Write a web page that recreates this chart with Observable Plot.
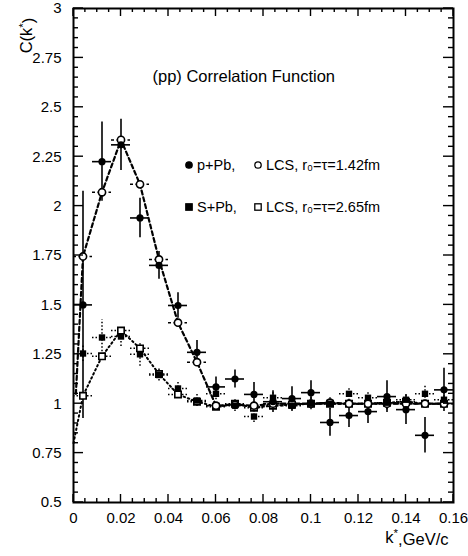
<!DOCTYPE html>
<html><head><meta charset="utf-8">
<script src="https://cdn.jsdelivr.net/npm/d3@7"></script>
<script src="https://cdn.jsdelivr.net/npm/@observablehq/plot@0.6"></script>
<style>body{margin:0;background:#fff} svg{display:block;background:#fff}</style>
</head><body><div id="chart"></div>
<script>
// bin centres (GeV/c)
const k = [0.004,0.012,0.020,0.028,0.036,0.044,0.052,0.060,0.068,0.076,0.084,0.092,0.100,0.108,0.116,0.124,0.132,0.140,0.148,0.156];
// p+Pb data
const pPb    = [1.50,2.225,2.31,1.94,1.70,1.497,1.26,1.085,1.125,1.047,1.01,1.026,1.056,0.905,0.94,0.96,1.036,0.97,0.84,1.07];
const pPbErr = [0.575,0.20,0.13,0.10,0.07,0.065,0.06,0.05,0.046,0.06,0.055,0.06,0.06,0.07,0.06,0.06,0.08,0.075,0.09,0.11];
// S+Pb data
const sPb    = [1.254,1.335,1.34,1.25,1.145,1.077,1.016,1.05,0.99,0.935,1.03,0.99,1.0,1.0,1.05,1.03,1.005,1.02,1.05,1.02];
const sPbErr = [0.04,0.09,0.05,0.06,0.03,0.03,0.03,0.03,0.03,0.03,0.035,0.03,0.03,0.03,0.035,0.035,0.035,0.035,0.04,0.04];
// LCS model values
const lcsPP  = [1.745,2.07,2.335,2.11,1.73,1.41,1.21,0.99,0.995,0.99,1.0,1.0,1.0,1.005,1.0,1.0,1.0,1.0,1.0,1.0];
const lcsSPb = [1.04,1.24,1.37,1.28,1.15,1.047,1.01,0.985,1.0,0.98,0.99,0.995,1.0,1.0,1.0,1.0,1.005,1.01,1.0,1.0];
// LCS curves near k*=0
const lcsPPStart  = {k: 0.001, c: 1.05};
const lcsSPbStart = {k: 0.0, c: 0.80};
const halfBin = 0.004;
// axes
const xDomain = [0, 0.16];
const yDomain = [0.5, 3];
const xTicks = [0,0.02,0.04,0.06,0.08,0.1,0.12,0.14,0.16];
const xTickLabels = ["0","0.02","0.04","0.06","0.08","0.1","0.12","0.14","0.16"];
const yTicks = [0.5,0.75,1,1.25,1.5,1.75,2,2.25,2.5,2.75,3];
const yTickLabels = ["0.5","0.75","1","1.25","1.5","1.75","2","2.25","2.5","2.75","3"];
const title = "(pp) Correlation Function";
const xLabel = "k*,GeV/c";
const yLabel = "C(k*)";
const legend = [
  {filled: "circle", fLabel: "p+Pb,", open: "circle", oLabel: "LCS, r₀=τ=1.42fm"},
  {filled: "square", fLabel: "S+Pb,", open: "square", oLabel: "LCS, r₀=τ=2.65fm"}
];

const xMinor = d3.range(0, 33).map(i => +(i*0.005).toFixed(3)).filter(v => !xTicks.includes(v));
const yMinor = d3.range(0, 51).map(i => +(0.5 + i*0.05).toFixed(2)).filter(v => !yTicks.includes(v));

const ppRows  = k.map((x,i) => ({k:x, c:pPb[i], e:pPbErr[i]}));
const spRows  = k.map((x,i) => ({k:x, c:sPb[i], e:sPbErr[i]}));
const lppRows = k.map((x,i) => ({k:x, c:lcsPP[i]}));
const lspRows = k.map((x,i) => ({k:x, c:lcsSPb[i]}));

const W = 468, H = 556, mL = 73, mR = 15, mT = 8, mB = 54;
const FW = W - mL - mR, FH = H - mT - mB;
// pixel length -> data length (for inward tick marks)
const pxX = L => L * (xDomain[1] - xDomain[0]) / FW;
const pxY = L => L * (yDomain[1] - yDomain[0]) / FH;
const font = "'Liberation Sans', Arial, Helvetica, sans-serif";
const fmtX = d => xTickLabels[xTicks.indexOf(d)];
const fmtY = d => yTickLabels[yTicks.indexOf(d)];
const tw = 0.7; // half tick thickness, px
// inward tick marks drawn as thin filled rects (all four sides)
const xTickRects = (vals, L) => [
  Plot.rect(vals, {x1: d => d - pxX(tw), x2: d => d + pxX(tw), y1: () => yDomain[0], y2: () => yDomain[0] + pxY(L), fill: "#000"}),
  Plot.rect(vals, {x1: d => d - pxX(tw), x2: d => d + pxX(tw), y1: () => yDomain[1] - pxY(L), y2: () => yDomain[1], fill: "#000"})
];
const yTickRects = (vals, L) => [
  Plot.rect(vals, {y1: d => d - pxY(tw), y2: d => d + pxY(tw), x1: () => xDomain[0], x2: () => xDomain[0] + pxX(L), fill: "#000"}),
  Plot.rect(vals, {y1: d => d - pxY(tw), y2: d => d + pxY(tw), x1: () => xDomain[1] - pxX(L), x2: () => xDomain[1], fill: "#000"})
];

const plot = Plot.plot({
  width: W, height: H,
  marginLeft: mL, marginRight: mR, marginTop: mT, marginBottom: mB,
  x: {domain: xDomain},
  y: {domain: yDomain},
  style: {fontFamily: font},
  marks: [
    Plot.frame({fill: "none", stroke: "#000", strokeWidth: 2}),
    Plot.axisX({anchor: "bottom", ticks: xTicks, tickSize: 0, tickPadding: 10, tickFormat: fmtX, fontSize: 15, label: null, fill: "#000"}),
    Plot.axisY({anchor: "left", ticks: yTicks, tickSize: 0, tickPadding: 12, tickFormat: fmtY, fontSize: 15, label: null, fill: "#000"}),
    // LCS curves
    Plot.line([lcsPPStart, ...lppRows], {x: "k", y: "c", stroke: "#000", strokeWidth: 2.2, strokeDasharray: "4,3"}),
    Plot.line([lcsSPbStart, ...lspRows], {x: "k", y: "c", stroke: "#000", strokeWidth: 2, strokeDasharray: "1.5,3"}),
    // LCS horizontal bin bars
    Plot.ruleY(lppRows, {y: "c", x1: d => d.k - halfBin, x2: d => d.k + halfBin, stroke: "#000", strokeWidth: 1.5, strokeDasharray: "3,2.5"}),
    Plot.ruleY(lspRows, {y: "c", x1: d => d.k - halfBin, x2: d => d.k + halfBin, stroke: "#000", strokeWidth: 1.5, strokeDasharray: "1.5,2"}),
    // S+Pb error bars (dotted)
    Plot.ruleX(spRows, {x: "k", y1: d => d.c - d.e, y2: d => d.c + d.e, stroke: "#000", strokeWidth: 1.5, strokeDasharray: "1.5,2"}),
    Plot.ruleY(spRows, {y: "c", x1: d => d.k - halfBin, x2: d => d.k + halfBin, stroke: "#000", strokeWidth: 1.5, strokeDasharray: "1.5,2"}),
    // p+Pb error bars (solid)
    Plot.ruleX(ppRows, {x: "k", y1: d => d.c - d.e, y2: d => d.c + d.e, stroke: "#000", strokeWidth: 1.6}),
    Plot.ruleY(ppRows, {y: "c", x1: d => d.k - halfBin, x2: d => d.k + halfBin, stroke: "#000", strokeWidth: 1.6}),
    // LCS markers (open)
    Plot.dot(lspRows, {x: "k", y: "c", symbol: "square", r: 3.6, fill: "#fff", stroke: "#000", strokeWidth: 1.6}),
    Plot.dot(lppRows, {x: "k", y: "c", symbol: "circle", r: 3.6, fill: "#fff", stroke: "#000", strokeWidth: 1.6}),
    // data markers (filled)
    Plot.dot(spRows, {x: "k", y: "c", symbol: "square", r: 3.6, fill: "#000"}),
    Plot.dot(ppRows, {x: "k", y: "c", symbol: "circle", r: 3.6, fill: "#000"}),
    // inward tick marks (drawn last)
    ...xTickRects(xMinor, 4), ...xTickRects(xTicks, 8),
    ...yTickRects(yMinor, 5), ...yTickRects(yTicks, 10),
    // title & axis labels
    Plot.text([title], {frameAnchor: "top-left", dx: 79, dy: 62, textAnchor: "start", fontSize: 16.5, fill: "#000"}),
    Plot.text([xLabel], {frameAnchor: "bottom-right", dx: -5, dy: 40, textAnchor: "end", fontSize: 16.5, fill: "#000"}),
    Plot.text([yLabel], {frameAnchor: "top-left", dx: -53, dy: 27, rotate: -90, textAnchor: "middle", fontSize: 16.5, fill: "#000"})
  ]
});

const svg = d3.select(plot);
// superscript asterisks in axis labels
svg.selectAll("text").each(function() {
  const t = d3.select(this);
  const s = t.text();
  if (s === xLabel || s === yLabel) {
    const [a, b] = s.split("*");
    t.text(null);
    t.append("tspan").text(a);
    t.append("tspan").attr("dy", "-0.45em").attr("font-size", "0.7em").text("*");
    t.append("tspan").attr("dy", "0.45em").text(b);
  }
});
// legend inside the frame
const lx = mL + 116, ly0 = mT + 157, lstep = 42;
const lg = svg.append("g").attr("font-family", font).attr("font-size", 14.5).attr("fill", "#000").attr("text-anchor", "start");
function sym(type, x, y, filled) {
  if (type === "circle") lg.append("circle").attr("cx", x).attr("cy", y).attr("r", 3.2)
    .attr("fill", filled ? "#000" : "#fff").attr("stroke", "#000").attr("stroke-width", 1.3);
  else lg.append("rect").attr("x", x - 3.2).attr("y", y - 3.2).attr("width", 6.4).attr("height", 6.4)
    .attr("fill", filled ? "#000" : "#fff").attr("stroke", "#000").attr("stroke-width", 1.3);
}
legend.forEach((row, i) => {
  const y = ly0 + i * lstep;
  sym(row.filled, lx, y, true);
  lg.append("text").attr("x", lx + 8).attr("y", y).attr("dy", "0.35em").attr("text-anchor", "start").text(row.fLabel);
  sym(row.open, lx + 69, y, false);
  lg.append("text").attr("x", lx + 77).attr("y", y).attr("dy", "0.35em").attr("text-anchor", "start").text(row.oLabel);
});
document.getElementById("chart").appendChild(plot);
</script>
</body></html>
